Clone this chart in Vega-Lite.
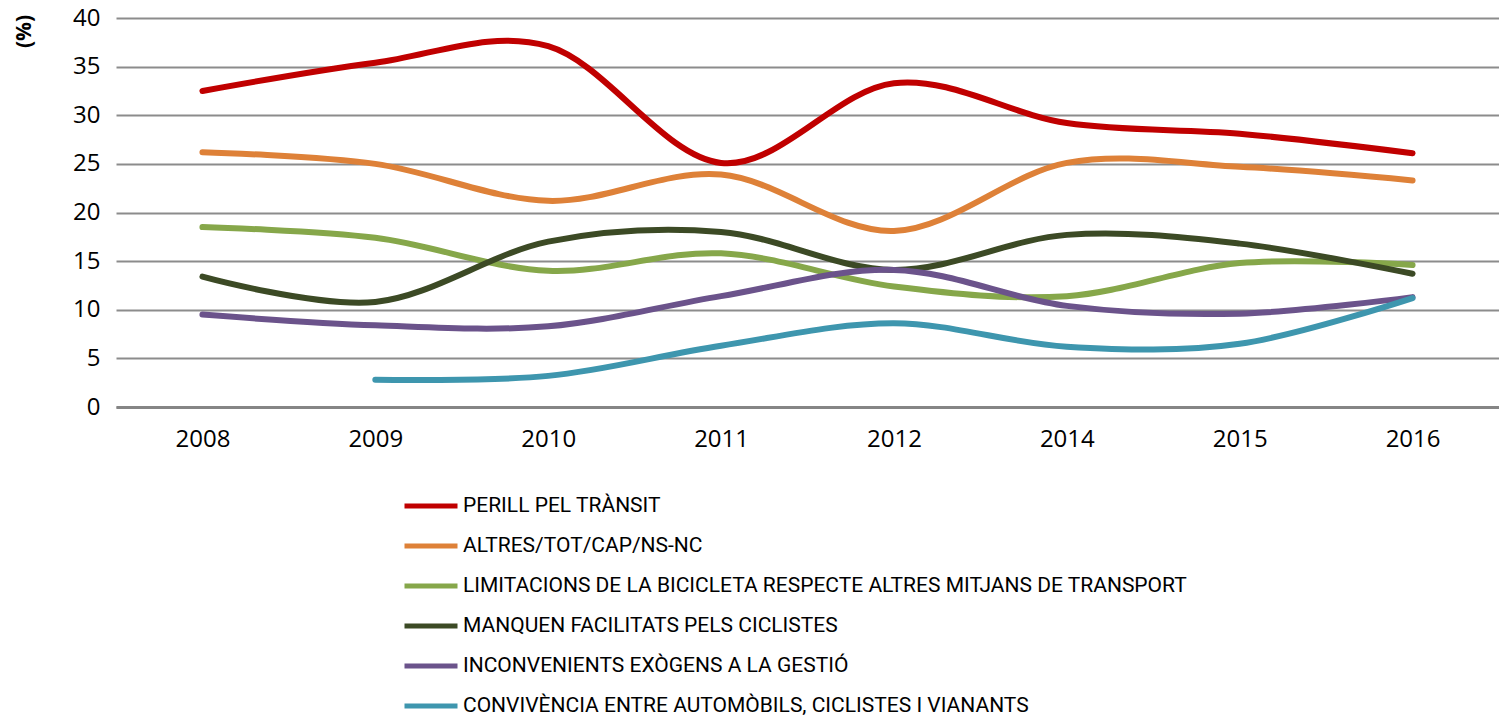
{
  "$schema": "https://vega.github.io/schema/vega-lite/v6.json",
  "autosize": {"type": "none"},
  "width": 1383,
  "height": 389,
  "padding": {"left": 116, "top": 18, "right": 0, "bottom": 310},
  "background": "white",
  "config": {"view": {"stroke": null}},
  "data": {
    "values": [
      {"year": "2008", "cat": "PERILL PEL TRÀNSIT", "value": 32.5},
      {"year": "2009", "cat": "PERILL PEL TRÀNSIT", "value": 35.4},
      {"year": "2010", "cat": "PERILL PEL TRÀNSIT", "value": 37.1},
      {"year": "2011", "cat": "PERILL PEL TRÀNSIT", "value": 25.1},
      {"year": "2012", "cat": "PERILL PEL TRÀNSIT", "value": 33.3},
      {"year": "2014", "cat": "PERILL PEL TRÀNSIT", "value": 29.2},
      {"year": "2015", "cat": "PERILL PEL TRÀNSIT", "value": 28.1},
      {"year": "2016", "cat": "PERILL PEL TRÀNSIT", "value": 26.1},
      {"year": "2008", "cat": "ALTRES/TOT/CAP/NS-NC", "value": 26.2},
      {"year": "2009", "cat": "ALTRES/TOT/CAP/NS-NC", "value": 25.0},
      {"year": "2010", "cat": "ALTRES/TOT/CAP/NS-NC", "value": 21.2},
      {"year": "2011", "cat": "ALTRES/TOT/CAP/NS-NC", "value": 23.9},
      {"year": "2012", "cat": "ALTRES/TOT/CAP/NS-NC", "value": 18.1},
      {"year": "2014", "cat": "ALTRES/TOT/CAP/NS-NC", "value": 25.1},
      {"year": "2015", "cat": "ALTRES/TOT/CAP/NS-NC", "value": 24.7},
      {"year": "2016", "cat": "ALTRES/TOT/CAP/NS-NC", "value": 23.3},
      {"year": "2008", "cat": "LIMITACIONS DE LA BICICLETA RESPECTE ALTRES MITJANS DE TRANSPORT", "value": 18.5},
      {"year": "2009", "cat": "LIMITACIONS DE LA BICICLETA RESPECTE ALTRES MITJANS DE TRANSPORT", "value": 17.4},
      {"year": "2010", "cat": "LIMITACIONS DE LA BICICLETA RESPECTE ALTRES MITJANS DE TRANSPORT", "value": 14.0},
      {"year": "2011", "cat": "LIMITACIONS DE LA BICICLETA RESPECTE ALTRES MITJANS DE TRANSPORT", "value": 15.8},
      {"year": "2012", "cat": "LIMITACIONS DE LA BICICLETA RESPECTE ALTRES MITJANS DE TRANSPORT", "value": 12.4},
      {"year": "2014", "cat": "LIMITACIONS DE LA BICICLETA RESPECTE ALTRES MITJANS DE TRANSPORT", "value": 11.4},
      {"year": "2015", "cat": "LIMITACIONS DE LA BICICLETA RESPECTE ALTRES MITJANS DE TRANSPORT", "value": 14.8},
      {"year": "2016", "cat": "LIMITACIONS DE LA BICICLETA RESPECTE ALTRES MITJANS DE TRANSPORT", "value": 14.6},
      {"year": "2008", "cat": "MANQUEN FACILITATS PELS CICLISTES", "value": 13.4},
      {"year": "2009", "cat": "MANQUEN FACILITATS PELS CICLISTES", "value": 10.8},
      {"year": "2010", "cat": "MANQUEN FACILITATS PELS CICLISTES", "value": 17.0},
      {"year": "2011", "cat": "MANQUEN FACILITATS PELS CICLISTES", "value": 18.0},
      {"year": "2012", "cat": "MANQUEN FACILITATS PELS CICLISTES", "value": 14.1},
      {"year": "2014", "cat": "MANQUEN FACILITATS PELS CICLISTES", "value": 17.7},
      {"year": "2015", "cat": "MANQUEN FACILITATS PELS CICLISTES", "value": 16.8},
      {"year": "2016", "cat": "MANQUEN FACILITATS PELS CICLISTES", "value": 13.7},
      {"year": "2008", "cat": "INCONVENIENTS EXÒGENS A LA GESTIÓ", "value": 9.5},
      {"year": "2009", "cat": "INCONVENIENTS EXÒGENS A LA GESTIÓ", "value": 8.4},
      {"year": "2010", "cat": "INCONVENIENTS EXÒGENS A LA GESTIÓ", "value": 8.3},
      {"year": "2011", "cat": "INCONVENIENTS EXÒGENS A LA GESTIÓ", "value": 11.4},
      {"year": "2012", "cat": "INCONVENIENTS EXÒGENS A LA GESTIÓ", "value": 14.1},
      {"year": "2014", "cat": "INCONVENIENTS EXÒGENS A LA GESTIÓ", "value": 10.4},
      {"year": "2015", "cat": "INCONVENIENTS EXÒGENS A LA GESTIÓ", "value": 9.6},
      {"year": "2016", "cat": "INCONVENIENTS EXÒGENS A LA GESTIÓ", "value": 11.3},
      {"year": "2009", "cat": "CONVIVÈNCIA ENTRE AUTOMÒBILS, CICLISTES I VIANANTS", "value": 2.8},
      {"year": "2010", "cat": "CONVIVÈNCIA ENTRE AUTOMÒBILS, CICLISTES I VIANANTS", "value": 3.2},
      {"year": "2011", "cat": "CONVIVÈNCIA ENTRE AUTOMÒBILS, CICLISTES I VIANANTS", "value": 6.3},
      {"year": "2012", "cat": "CONVIVÈNCIA ENTRE AUTOMÒBILS, CICLISTES I VIANANTS", "value": 8.6},
      {"year": "2014", "cat": "CONVIVÈNCIA ENTRE AUTOMÒBILS, CICLISTES I VIANANTS", "value": 6.2},
      {"year": "2015", "cat": "CONVIVÈNCIA ENTRE AUTOMÒBILS, CICLISTES I VIANANTS", "value": 6.5},
      {"year": "2016", "cat": "CONVIVÈNCIA ENTRE AUTOMÒBILS, CICLISTES I VIANANTS", "value": 11.2}
    ]
  },
  "mark": {"type": "line", "interpolate": "cardinal", "strokeWidth": 6, "strokeCap": "round"},
  "encoding": {
    "x": {
      "field": "year", "type": "ordinal",
      "scale": {"type": "point", "padding": 0.5},
      "axis": {
        "title": null, "labelAngle": 0, "labelFont": "Open Sans", "labelFontSize": 24,
        "labelColor": "#000000", "labelPadding": 20, "ticks": false,
        "domainColor": "#858585", "domainWidth": 3, "grid": false
      }
    },
    "y": {
      "field": "value", "type": "quantitative",
      "scale": {"domain": [0, 40], "nice": false},
      "axis": {
        "values": [0, 5, 10, 15, 20, 25, 30, 35, 40],
        "title": "(%)", "titleFont": "Open Sans", "titleFontSize": 21, "titleFontWeight": "bold",
        "titleColor": "#000000", "titleAngle": -90, "titleX": -92, "titleY": 13,
        "titleAlign": "center", "titleBaseline": "middle",
        "labelFont": "Open Sans", "labelFontSize": 24, "labelColor": "#000000",
        "labelPadding": 16, "ticks": false, "domain": false,
        "grid": true, "gridColor": "#8c8c8c", "gridWidth": 2
      }
    },
    "color": {
      "field": "cat", "type": "nominal",
      "scale": {
        "domain": [
          "PERILL PEL TRÀNSIT",
          "ALTRES/TOT/CAP/NS-NC",
          "LIMITACIONS DE LA BICICLETA RESPECTE ALTRES MITJANS DE TRANSPORT",
          "MANQUEN FACILITATS PELS CICLISTES",
          "INCONVENIENTS EXÒGENS A LA GESTIÓ",
          "CONVIVÈNCIA ENTRE AUTOMÒBILS, CICLISTES I VIANANTS"
        ],
        "range": ["#C00000", "#DE8138", "#86A74A", "#3C4A25", "#6B538B", "#3E96AE"]
      },
      "legend": {
        "title": null, "orient": "none", "legendX": 286, "legendY": 477,
        "direction": "vertical", "symbolType": "stroke", "symbolSize": 2809,
        "symbolStrokeWidth": 5, "clipHeight": 22, "rowPadding": 18,
        "labelFont": "Roboto", "labelFontSize": 21, "labelColor": "#000000",
        "labelOffset": 3, "labelLimit": 1000
      }
    }
  }
}
